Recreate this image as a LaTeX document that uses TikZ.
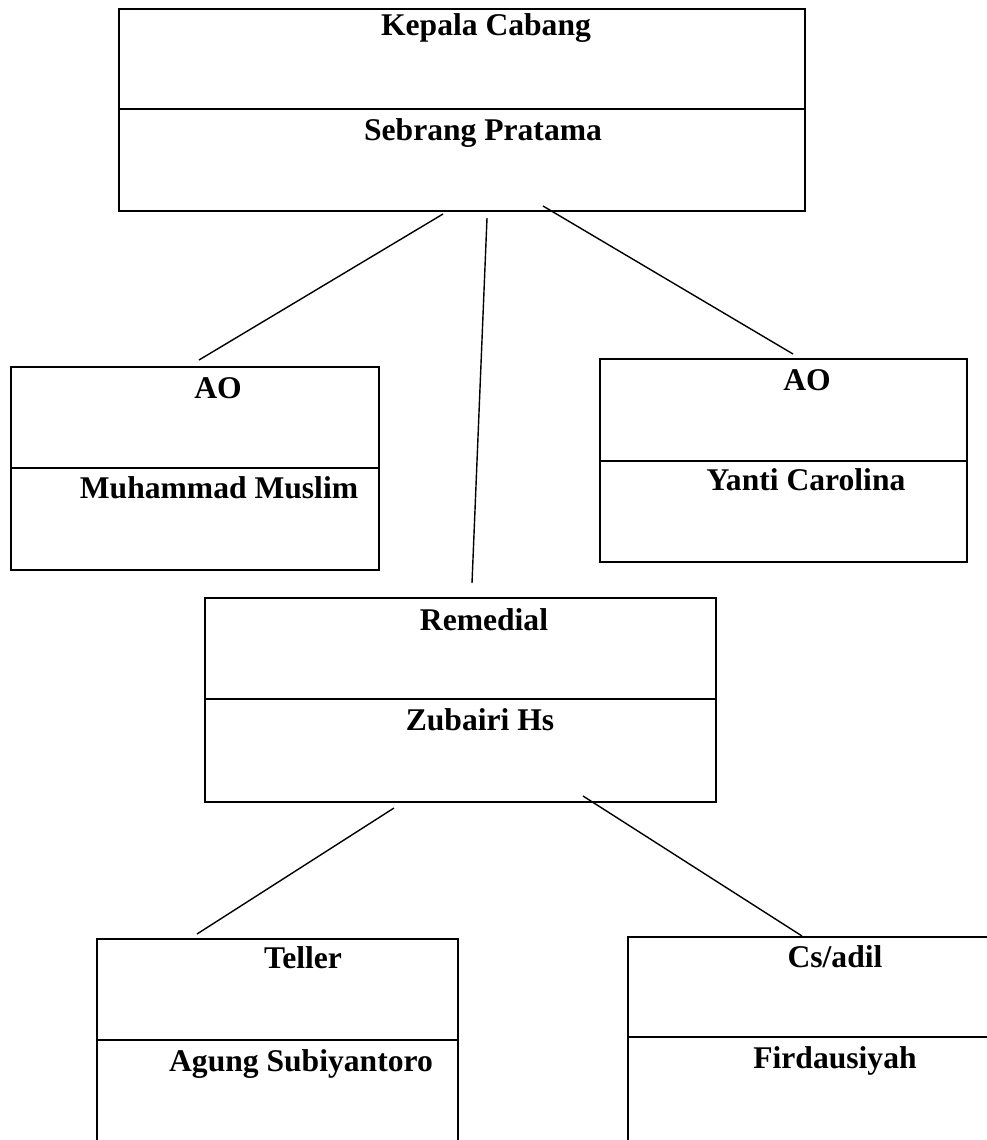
\documentclass[tikz,border=0pt]{standalone}
\usepackage{fontspec}
\setmainfont{Liberation Serif}
\begin{document}
\begin{tikzpicture}[x=1pt,y=-1pt,
  orgbox/.style={draw, line width=2pt, rectangle, inner sep=0pt},
  divline/.style={line width=2pt},
  conn/.style={line width=1.4pt},
  lbl/.style={anchor=base, inner sep=0pt, font=\fontsize{31.6}{38}\selectfont\bfseries}]
\useasboundingbox (0,0) rectangle (987,1140);
\clip (0,0) rectangle (987,1140);
% boxes
\node[orgbox, minimum width=686pt, minimum height=202pt] (kc) at (462,110) {};
\node[orgbox, minimum width=368pt, minimum height=203pt] (ao1) at (195,468.5) {};
\node[orgbox, minimum width=367pt, minimum height=203pt] (ao2) at (783.5,460.5) {};
\node[orgbox, minimum width=511pt, minimum height=204pt] (rem) at (460.5,700) {};
\node[orgbox, minimum width=361pt, minimum height=221pt] (tel) at (277.5,1049.5) {};
\node[orgbox, minimum width=372pt, minimum height=223pt] (cs) at (814,1048.5) {};
% dividers
\draw[divline] (kc.west |- 0,109) -- (kc.east |- 0,109);
\draw[divline] (ao1.west |- 0,468) -- (ao1.east |- 0,468);
\draw[divline] (ao2.west |- 0,461) -- (ao2.east |- 0,461);
\draw[divline] (rem.west |- 0,699) -- (rem.east |- 0,699);
\draw[divline] (tel.west |- 0,1040) -- (tel.east |- 0,1040);
\draw[divline] (cs.west |- 0,1037) -- (cs.east |- 0,1037);
% texts
\node[lbl] (t1) at (486,36) {Kepala Cabang};
\node[lbl] (t2) at (483,140) {Sebrang Pratama};
\node[lbl] (t3) at (218,398) {AO};
\node[lbl] (t4) at (219,498) {Muhammad Muslim};
\node[lbl] (t5) at (807,390) {AO};
\node[lbl] (t6) at (806,490) {Yanti Carolina};
\node[lbl] (t7) at (484,630) {Remedial};
\node[lbl] (t8) at (480,730) {Zubairi Hs};
\node[lbl] (t9) at (303,968) {Teller};
\node[lbl] (t10) at (301,1071) {Agung Subiyantoro};
\node[lbl] (t11) at (835,967) {Cs/adil};
\node[lbl] (t12) at (835,1068) {Firdausiyah};
% connector ends
\coordinate (c1a) at (443,214);
\coordinate (c1b) at (199,360);
\coordinate (c2a) at (487,218);
\coordinate (c2b) at (472,583);
\coordinate (c3a) at (543,206);
\coordinate (c3b) at (793,354);
\coordinate (c4a) at (394,808);
\coordinate (c4b) at (197,934);
\coordinate (c5a) at (583,796);
\coordinate (c5b) at (802,936);
\draw[conn] (c1a) -- (c1b);
\draw[conn] (c2a) -- (c2b);
\draw[conn] (c3a) -- (c3b);
\draw[conn] (c4a) -- (c4b);
\draw[conn] (c5a) -- (c5b);
\end{tikzpicture}
\end{document}
